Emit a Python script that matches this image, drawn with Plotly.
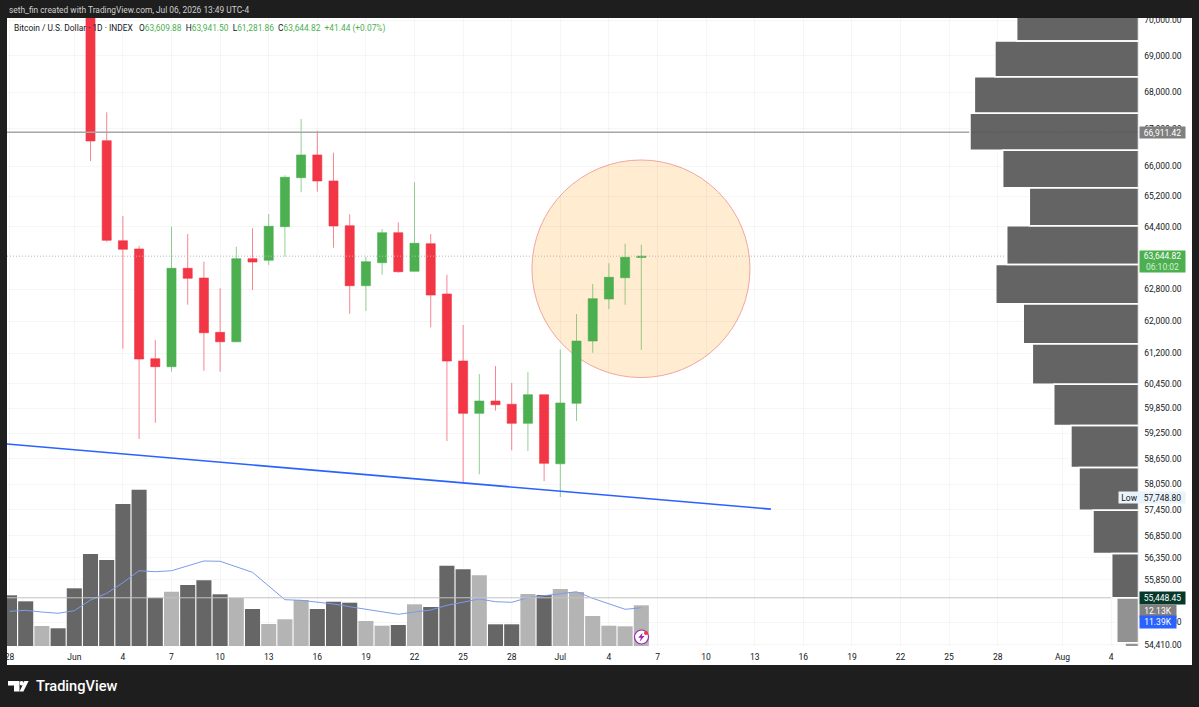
import math
import pandas as pd
import plotly.graph_objects as go

# ---- daily OHLC, Jun 2 to Jul 6 2026 ----
candle_start = "2026-06-02"
opens = [71500, 66682, 64043, 63830, 61065, 60868, 63334, 63086, 61718, 61484, 63580, 63539, 64407, 65693,
         66298, 65606, 64433, 62891, 63477, 64251, 63257, 63966, 62680, 61008, 59733, 60031, 59952, 59493,
         60184, 58530, 59976, 61502, 62554, 63094, 63609.88]
highs = [72400, 67450, 64685, 63915, 61527, 64407, 64217, 63503, 62824, 63889, 64365, 64737, 65757, 67268,
         66951, 66360, 64729, 63631, 64347, 64521, 65572, 64217, 63170, 61901, 60688, 60885, 60469, 60737,
         60184, 61296, 62176, 62935, 63462, 63966, 63941.50]
lows = [66137, 64017, 61311, 59117, 59507, 60744, 62410, 60769, 60744, 61470, 62781, 63419, 63631, 65307,
        65323, 63862, 62184, 62251, 63170, 63221, 63250, 61844, 59069, 58069, 58280, 59797, 58848, 58831,
        58122, 57748.80, 59548, 61212, 62300, 62410, 61281.86]
closes = [66674, 64054, 63822, 61057, 60868, 63334, 63079, 61708, 61484, 63580, 63495, 64417, 65704, 66298,
          65606, 64425, 62891, 63503, 64251, 63247, 63976, 62654, 61008, 59733, 60031, 59942, 59493, 60184,
          58540, 59983, 61502, 62562, 63104, 63616, 63644.82]

# ---- daily volume in thousands, May 28 to Jul 6 2026 ----
volume_start = "2026-05-28"
volumes = [15.11, 13.32, 5.96, 5.28, 17.2, 27.42, 25.63, 42.32, 46.59, 14.31, 16.18, 18.18, 19.58, 15.41,
           14.31, 11.03, 6.56, 7.96, 13.71, 11.03, 13.2, 12.91, 7.45, 6.05, 6.26, 12.43, 11.62, 23.93,
           22.86, 21.07, 6.47, 6.47, 15.5, 15.2, 16.99, 16.1, 8.94, 6.05, 5.87, 12.13]
volume_up = [0, 0, 1, 0, 0, 0, 0, 0, 0, 0, 1, 0, 0, 0, 1, 0, 1, 1, 1, 0, 0, 0, 1, 1, 0, 1, 0, 0, 0, 1, 0, 0,
             1, 0, 1, 1, 1, 1, 1, 1]
volume_ma = [10.34, 10.64, 10.13, 9.75, 10.52, 13.71, 15.71, 18.87, 22.44, 22.15, 22.44, 23.85, 25.34, 25.25,
             23.64, 21.97, 17.88, 13.8, 13.62, 13.11, 12.52, 11.71, 10.94, 10.13, 9.45, 10.13, 10.73, 12.13,
             13.11, 14.01, 13.2, 13.03, 14.4, 14.99, 15.71, 16.18, 14.22, 12.52, 10.94, 11.39]

# ---- volume profile: equal price bins, relative size ----
profile_base = 53452.45
profile_step = 998
profile_sizes = [8.0, 12.9, 15.9, 27.0, 35.3, 40.1, 50.3, 63.0, 68.4, 84.7, 78.2, 64.8, 80.6, 100, 97.4,
                 85.2, 72.3]
profile_light_bins = 2

# ---- axis ticks ----
price_ticks = [70000, 69000, 68000, 67000, 66000, 65200, 64400, 62800, 62000, 61200, 60450, 59850,
               59250, 58650, 58050, 57450, 56850, 56350, 55850, 54900, 54410]
date_ticks = ["2026-05-28", "2026-06-01", "2026-06-04", "2026-06-07", "2026-06-10", "2026-06-13", "2026-06-16",
              "2026-06-19", "2026-06-22", "2026-06-25", "2026-06-28", "2026-07-01", "2026-07-04", "2026-07-07",
              "2026-07-10", "2026-07-13", "2026-07-16", "2026-07-19", "2026-07-22", "2026-07-25", "2026-07-28",
              "2026-08-01", "2026-08-04"]
date_labels = ["28", "Jun", "4", "7", "10", "13", "16", "19", "22", "25", "28", "Jul", "4", "7", "10", "13",
               "16", "19", "22", "25", "28", "Aug", "4"]

# ---- levels and drawings ----
resistance_level = 66911.42
last_price = 63644.82
session_low = 57748.80
support_level = 55448.45
trend_dates = ["2026-05-27 20:00", "2026-07-14 00:00"]
trend_prices = [58998, 57469]

FONT = "Roboto, Arial, sans-serif"
TEXT = "#131722"
RED = "#f23645"
GREEN = "#4caf50"
GRID = "rgba(42,46,57,0.045)"
W, H = 1199, 707


def fx(px):
    return px / W


def fy(py):
    return 1 - py / H


candle_dates = pd.date_range(candle_start, periods=len(opens), freq="D")
volume_dates = pd.date_range(volume_start, periods=len(volumes), freq="D")
x_range = ["2026-05-27 20:18", "2026-08-05 16:33"]
level_x = x_range
profile_span = 671.5

fig = go.Figure()

# Volume pane sits on the lowest layer.
fig.add_trace(go.Bar(
    x=volume_dates, y=volumes, xaxis="x", yaxis="y",
    marker=dict(color=["#b4b4b4" if u else "#666666" for u in volume_up], line=dict(width=0)),
    showlegend=False, hoverinfo="skip",
))
fig.add_trace(go.Scatter(
    x=volume_dates, y=volume_ma, xaxis="x", yaxis="y", mode="lines",
    line=dict(color="#7d9be8", width=1), showlegend=False, hoverinfo="skip",
))

# Horizontal price levels.
for level, color, width, dash in [
    (resistance_level, "#a6a6a6", 1.5, "solid"),
    (support_level, "#c2c2c2", 1, "solid"),
    (last_price, "#b3bab3", 1, "1px 2px"),
]:
    fig.add_trace(go.Scatter(
        x=level_x, y=[level, level], xaxis="x", yaxis="y2", mode="lines",
        line=dict(color=color, width=width, dash=dash), showlegend=False, hoverinfo="skip",
    ))

fig.add_trace(go.Candlestick(
    x=candle_dates, open=opens, high=highs, low=lows, close=closes, xaxis="x", yaxis="y2",
    increasing=dict(line=dict(color="rgba(76,175,80,0.6)", width=1), fillcolor=GREEN),
    decreasing=dict(line=dict(color="rgba(242,54,69,0.6)", width=1), fillcolor=RED),
    whiskerwidth=0, showlegend=False, hoverinfo="skip",
))

fig.add_trace(go.Scatter(
    x=trend_dates, y=trend_prices, xaxis="x", yaxis="y2", mode="lines",
    line=dict(color="#2962ff", width=1.6), showlegend=False, hoverinfo="skip",
))


# Volume profile rectangles, one fill trace per shade.
def profile_trace(indices, color):
    xs, ys = [], []
    for i in indices:
        low = profile_base + i * profile_step
        high = low + profile_step
        xs += [0, profile_sizes[i], profile_sizes[i], 0, 0, None]
        ys += [low, low, high, high, low, None]
    return go.Scatter(
        x=xs, y=ys, xaxis="x2", yaxis="y2", mode="lines", fill="toself", fillcolor=color,
        line=dict(color="#ffffff", width=1.5), showlegend=False, hoverinfo="skip",
    )


fig.add_trace(profile_trace(range(profile_light_bins), "rgba(140,140,140,0.95)"))
fig.add_trace(profile_trace(range(profile_light_bins, len(profile_sizes)), "rgba(88,88,88,0.93)"))

shapes = [
    # White chart panel on the dark page.
    dict(type="rect", xref="paper", yref="paper", x0=fx(7), x1=fx(1192), y0=fy(665), y1=fy(18),
         fillcolor="#ffffff", line_width=0, layer="below"),
    # Highlight circle round the latest candles.
    dict(type="circle", xref="x", yref="y2", x0="2026-06-29 06:00", x1="2026-07-12 17:00", y0=60602, y1=66164,
         fillcolor="rgba(255,152,0,0.18)", line=dict(color="#f2a5a0", width=1), layer="below"),
    # Page bands that clip the top of the price scale and the first date label.
    dict(type="rect", xref="paper", yref="paper", x0=0, x1=1, y0=fy(18), y1=1, fillcolor="#1e1e1e", line_width=0,
         layer="above"),
    dict(type="rect", xref="paper", yref="paper", x0=0, x1=fx(7), y0=0, y1=1, fillcolor="#1e1e1e", line_width=0,
         layer="above"),
]


def poly(points, color):
    path = "M " + " L ".join(f"{fx(a):.5f},{fy(b):.5f}" for a, b in points) + " Z"
    return dict(type="path", xref="paper", yref="paper", path=path, fillcolor=color, line_width=0, layer="above")


# TradingView mark.
shapes += [
    poly([(8, 681), (19.5, 681), (19.5, 691.5), (14, 691.5), (14, 685.5), (8, 685.5)], "#ffffff"),
    dict(type="circle", xref="paper", yref="paper", x0=fx(19.6), x1=fx(23.8), y0=fy(685.4), y1=fy(681),
         fillcolor="#ffffff", line_width=0, layer="above"),
    poly([(24.4, 681), (28.6, 681), (23.4, 691.5), (19.6, 691.5)], "#ffffff"),
]
# Alert badge on the last volume bar.
shapes += [
    dict(type="circle", xref="paper", yref="paper", x0=fx(634.5), x1=fx(648.5), y0=fy(644), y1=fy(630),
         fillcolor="#ffffff", line=dict(color="#9c27b0", width=1.2), layer="above"),
    poly([(642.5, 632.8), (638.2, 637.8), (640.8, 637.8), (639.8, 641.4), (644.6, 636), (641.8, 636)], "#9c27b0"),
    dict(type="circle", xref="paper", yref="paper", x0=fx(644), x1=fx(648), y0=fy(635), y1=fy(631),
         fillcolor="#f23645", line_width=0, layer="above"),
]


def note(px, py, text, size=9, color=TEXT, weight=400):
    return dict(xref="paper", yref="paper", x=fx(px), y=fy(py), text=text, showarrow=False, xanchor="left",
                yanchor="middle", font=dict(family=FONT, size=size, color=color, weight=weight))


def price_tag(py, height, text, bg, fg="#ffffff", width=45, px=1139):
    return dict(xref="paper", yref="paper", x=fx(px), y=fy(py), text=text, showarrow=False, xanchor="left",
                yanchor="middle", width=width, height=height, align="center", bgcolor=bg, borderpad=0,
                font=dict(family=FONT, size=8.5, color=fg))


def g(text):
    return f'<span style="color:{GREEN}">{text}</span>'


annotations = [
    note(7, 10, "seth_fin created with TradingView.com, Jul 06, 2026 13:49 UTC-4", size=8.4, color="#d0d0d0"),
    note(12, 29,
         "Bitcoin / U.S. Dollar · 1D · INDEX   O" + g("63,609.88") + "  H" + g("63,941.50") + "  L" + g("61,281.86")
         + "  C" + g("63,644.82") + "  " + g("+41.44 (+0.07%)"), size=8.4),
    price_tag(132, 11, "66,911.42", "#808080"),
    price_tag(261, 21, '63,644.82<br><span style="color:#d6efd7">06:10:02</span>', GREEN),
    price_tag(598, 12, "55,448.45", "#06392a"),
    price_tag(610.5, 12, "12.13K", "#808080", width=36),
    price_tag(622, 12, "11.39K", "#2962ff", width=36),
    price_tag(497.5, 11, "57,748.80", "#eaf2fb", fg=TEXT),
    price_tag(497.5, 11, "Low", "#eaf2fb", fg=TEXT, width=21, px=1118),
    note(34, 686, "TradingView", size=14.6, color="#ffffff", weight=500),
]

fig.update_layout(
    width=W, height=H, autosize=False,
    margin=dict(l=0, r=0, t=0, b=0, pad=0, autoexpand=False),
    paper_bgcolor="#1e1e1e", plot_bgcolor="rgba(0,0,0,0)",
    bargap=0.07, boxgap=0.2, dragmode=False, showlegend=False,
    font=dict(family=FONT, size=8.5, color=TEXT),
    shapes=shapes, annotations=annotations,
    xaxis=dict(
        type="date", domain=[fx(7), fx(1138.5)], range=x_range, anchor="y",
        tickmode="array", tickvals=date_ticks, ticktext=date_labels, ticks="outside", ticklen=3,
        tickcolor="rgba(0,0,0,0)", showgrid=True, gridcolor=GRID, gridwidth=1, zeroline=False,
        showline=False, rangeslider=dict(visible=False), tickfont=dict(family=FONT, size=8.5, color=TEXT),
    ),
    xaxis2=dict(
        overlaying="x", anchor="y2", range=[profile_span, 0], visible=False, showgrid=False, zeroline=False,
    ),
    yaxis=dict(
        domain=[fy(646), fy(18)], range=[0, 187.2], visible=False, showgrid=False, zeroline=False, anchor="x",
    ),
    yaxis2=dict(
        type="log", overlaying="y", anchor="x", side="right",
        range=[math.log10(54380), math.log10(70066)],
        tickmode="array", tickvals=price_ticks, ticktext=[f"{v:,.2f}" for v in price_ticks],
        ticks="outside", ticklen=3, tickcolor="rgba(0,0,0,0)", showgrid=True, gridcolor=GRID, gridwidth=1,
        zeroline=False, showline=False, tickfont=dict(family=FONT, size=8.5, color=TEXT),
    ),
)

fig.write_html("out.html", config=dict(displayModeBar=False))
